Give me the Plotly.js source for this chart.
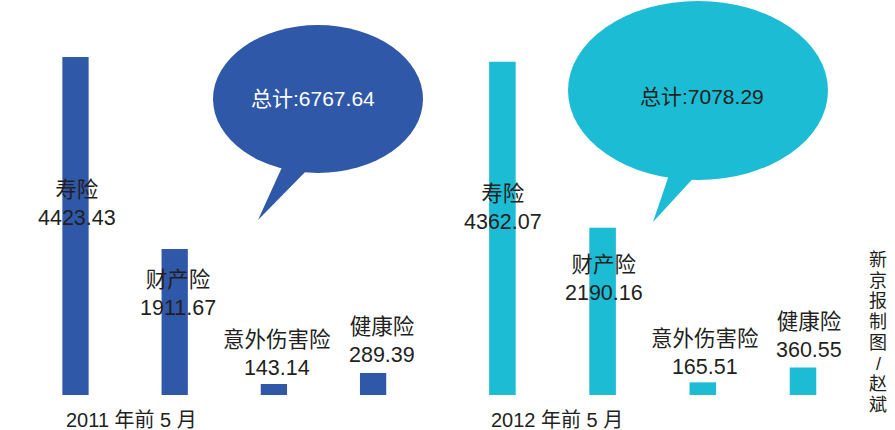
<!DOCTYPE html>
<html><head><meta charset="utf-8">
<script src="https://cdn.plot.ly/plotly-3.0.1.min.js"></script>
<style>html,body{margin:0;padding:0;background:#fff}#chart{width:895px;height:430px}</style>
</head><body><div id="chart"></div>
<script>
// ---- data ----
const categories = ['寿险', '财产险', '意外伤害险', '健康险'];
const values2011 = [4423.43, 1911.67, 143.14, 289.39];
const values2012 = [4362.07, 2190.16, 165.51, 360.55];
const periodLabels = ['2011 年前 5 月', '2012 年前 5 月'];
const totals = [6767.64, 7078.29];
const credit = '新京报制图/赵斌';

// ---- layout helpers (pixel -> paper) ----
const W = 895, PH = 395; // plot area height (margin t=0, b=35)
const px = x => x / W;
const py = y => (PH - y) / PH;
const blue = '#3058a8', cyan = '#1bbcd4';
const FONT = 'Liberation Sans, Arial, Noto Sans CJK SC, sans-serif';

const traces = [
  {type: 'bar', x: categories, y: values2011, xaxis: 'x', yaxis: 'y',
   marker: {color: blue}, width: 0.265, hoverinfo: 'skip'},
  {type: 'bar', x: categories, y: values2012, xaxis: 'x2', yaxis: 'y',
   marker: {color: cyan}, width: 0.265, hoverinfo: 'skip'}
];

const axisBase = {showgrid: false, zeroline: false, showticklabels: false, showline: false, ticks: '', fixedrange: true};

// label placement (pixel centre y of the two-line block, x shift in px)
const labelY = [[203.5, 293.5, 354, 341], [207.5, 279, 352.5, 336]];
const labelShift = [[1.5, 3.5, 3, 9], [1, 1, 2, 5.5]];

const annotations = [];
[values2011, values2012].forEach((vals, g) => {
  vals.forEach((v, i) => {
    annotations.push({
      xref: g === 0 ? 'x' : 'x2', yref: 'paper', x: categories[i], y: py(labelY[g][i]),
      xshift: labelShift[g][i], yanchor: 'middle', xanchor: 'center', showarrow: false,
      text: categories[i] + '<br>' + v.toFixed(2),
      font: {family: FONT, size: 21.5, color: '#231f20'}
    });
  });
});
// period labels
[[131, 420], [556.5, 420]].forEach((p, g) => {
  annotations.push({xref: 'paper', yref: 'paper', x: px(p[0]), y: py(p[1]), xanchor: 'center', yanchor: 'middle',
    showarrow: false, text: periodLabels[g], font: {family: FONT, size: 20, color: '#231f20'}});
});
// bubble texts
annotations.push({xref: 'paper', yref: 'paper', x: px(313), y: py(98), xanchor: 'center', yanchor: 'middle',
  showarrow: false, text: '总计:' + totals[0].toFixed(2), font: {family: FONT, size: 21, color: '#ffffff'}});
annotations.push({xref: 'paper', yref: 'paper', x: px(702), y: py(97), xanchor: 'center', yanchor: 'middle',
  showarrow: false, text: '总计:' + totals[1].toFixed(2), font: {family: FONT, size: 21, color: '#231f20'}});
// vertical credit, one character per row
Array.from(credit).forEach((ch, i) => {
  annotations.push({xref: 'paper', yref: 'paper', x: px(878), y: py(260 + i * 20.7), xanchor: 'center', yanchor: 'middle',
    showarrow: false, text: ch, borderpad: 0,
    font: {family: FONT, size: 18, color: '#231f20'}});
});

function tri(a, b, c) {
  return `M${px(a[0])},${py(a[1])} L${px(b[0])},${py(b[1])} L${px(c[0])},${py(c[1])} Z`;
}
const shapes = [
  {type: 'circle', xref: 'paper', yref: 'paper', x0: px(213), x1: px(423), y0: py(173), y1: py(25),
   fillcolor: blue, line: {width: 0}, layer: 'below'},
  {type: 'path', xref: 'paper', yref: 'paper', path: tri([283, 165], [258, 220], [312, 165]),
   fillcolor: blue, line: {width: 0}, layer: 'below'},
  {type: 'circle', xref: 'paper', yref: 'paper', x0: px(568), x1: px(828), y0: py(180), y1: py(1),
   fillcolor: cyan, line: {width: 0}, layer: 'below'},
  {type: 'path', xref: 'paper', yref: 'paper', path: tri([670, 172], [653, 222], [699, 172]),
   fillcolor: cyan, line: {width: 0}, layer: 'below'}
];

const layout = {
  width: 895, height: 430,
  margin: {l: 0, r: 0, t: 0, b: 35, pad: 0},
  paper_bgcolor: '#ffffff', plot_bgcolor: 'rgba(0,0,0,0)',
  showlegend: false,
  xaxis: Object.assign({}, axisBase, {domain: [px(25.9), px(422.7)], type: 'category', range: [-0.5, 3.5]}),
  xaxis2: Object.assign({}, axisBase, {domain: [px(452.3), px(853.1)], type: 'category', range: [-0.5, 3.5], anchor: 'y'}),
  yaxis: Object.assign({}, axisBase, {range: [0, 5170]}),
  annotations: annotations,
  shapes: shapes,
  font: {family: FONT}
};

Plotly.newPlot('chart', traces, layout, {displayModeBar: false, staticPlot: true});
</script>
</body></html>
